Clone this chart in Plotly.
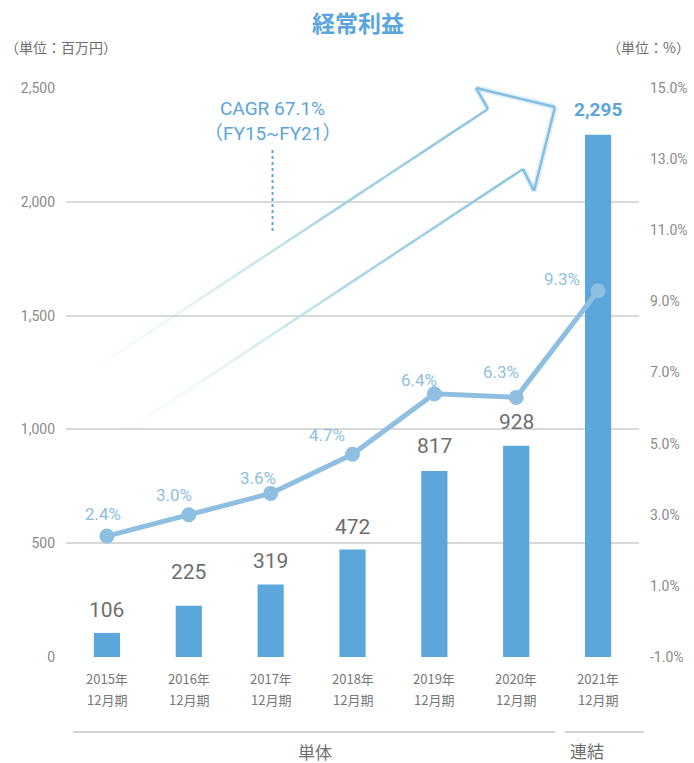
import plotly.graph_objects as go

# ---- data ----
categories = ["2015年", "2016年", "2017年", "2018年", "2019年", "2020年", "2021年"]
period_label = "12月期"
ordinary_profit = [106, 225, 319, 472, 817, 928, 2295]      # 百万円
profit_margin = [2.4, 3.0, 3.6, 4.7, 6.4, 6.3, 9.3]         # %
left_ticks = [0, 500, 1000, 1500, 2000, 2500]
right_ticks = [-1, 1, 3, 5, 7, 9, 11, 13, 15]

# ---- style / layout constants ----
W, H = 694, 763
L, R, T, B = 66, 55, 88, 106
PW, PH = W - L - R, H - T - B
BAR_COLOR = "#5ba7dc"
LINE_COLOR = "#8fbfe0"
TITLE_BLUE = "#5aa5dc"
GRAY = "#6e6e6e"
LABEL_GRAY = "#777777"
TICK_GRAY = "#8a8a8a"
NUM_FONT = "Roboto, 'Noto Sans CJK JP', sans-serif"
JP_FONT = "'Noto Sans CJK JP', sans-serif"

# label offsets in pixels (decoration placement)
margin_label_offsets = [(-4, -22), (-15, -20), (-13, -15), (-26, -19), (-15, -14), (-15, -25), (-36, -12)]
bar_label_gap = [23, 34, 23, 23, 25, 24, 25]


def px(x):
    return (x - L) / PW


def py(y):
    return (H - B - y) / PH


fig = go.Figure()

fig.add_trace(go.Bar(
    x=categories, y=ordinary_profit, marker_color=BAR_COLOR,
    marker_line_width=0, yaxis="y", hoverinfo="skip",
))
fig.add_trace(go.Scatter(
    x=categories, y=profit_margin, yaxis="y2", mode="lines+markers",
    line=dict(color=LINE_COLOR, width=5), marker=dict(color=LINE_COLOR, size=15),
    hoverinfo="skip",
))

annotations = []
# bar value labels
for i, (c, v) in enumerate(zip(categories, ordinary_profit)):
    last = i == len(categories) - 1
    annotations.append(dict(
        x=c, y=v, xref="x", yref="y", text=f"<b>{v:,}</b>" if last else f"{v:,}",
        showarrow=False, yanchor="middle", yshift=bar_label_gap[i],
        font=dict(family=NUM_FONT, size=19 if last else 21, color=TITLE_BLUE if last else GRAY),
    ))
# margin labels
for i, (c, v) in enumerate(zip(categories, profit_margin)):
    dx, dy = margin_label_offsets[i]
    annotations.append(dict(
        x=c, y=v, xref="x", yref="y2", text=f"{v:.1f}%", showarrow=False,
        xshift=dx, yshift=-dy, yanchor="middle",
        font=dict(family=NUM_FONT, size=17, color=LINE_COLOR),
    ))
# x category labels (two rows)
for c in categories:
    annotations.append(dict(x=c, xref="x", y=py(678), yref="paper", text=c, showarrow=False,
                            yanchor="middle", font=dict(family=JP_FONT, size=13, color=LABEL_GRAY)))
    annotations.append(dict(x=c, xref="x", y=py(699), yref="paper", text=period_label, showarrow=False,
                            yanchor="middle", font=dict(family=JP_FONT, size=13, color=LABEL_GRAY)))

# title and units
annotations += [
    dict(x=px(358), y=py(22), xref="paper", yref="paper", text="<b>経常利益</b>", showarrow=False,
         yanchor="middle", font=dict(family=JP_FONT, size=23, color=TITLE_BLUE)),
    dict(x=px(3), y=py(47), xref="paper", yref="paper", text="（単位：百万円）", showarrow=False,
         xanchor="left", yanchor="middle", font=dict(family=JP_FONT, size=14, color=GRAY)),
    dict(x=px(692), y=py(47), xref="paper", yref="paper", text="（単位：%）", showarrow=False,
         xanchor="right", yanchor="middle", font=dict(family=JP_FONT, size=14, color=GRAY)),
    dict(x=px(272.5), y=py(109), xref="paper", yref="paper", text="CAGR 67.1%", showarrow=False,
         yanchor="middle", font=dict(family=NUM_FONT, size=19, color=TITLE_BLUE)),
    dict(x=px(272.5), y=py(133), xref="paper", yref="paper", text="（FY15~FY21）", showarrow=False,
         yanchor="middle", font=dict(family=NUM_FONT, size=19, color=TITLE_BLUE)),
    dict(x=px(315), y=py(751), xref="paper", yref="paper", text="単体", showarrow=False,
         yanchor="middle", font=dict(family=JP_FONT, size=17, color=GRAY)),
    dict(x=px(606), y=py(750), xref="paper", yref="paper", text="連結", showarrow=False,
         yanchor="middle", font=dict(family=JP_FONT, size=17, color=GRAY)),
]

shapes = []


def seg(x0, y0, x1, y1, color, width, dash=None):
    d = dict(type="line", xref="paper", yref="paper", x0=px(x0), y0=py(y0), x1=px(x1), y1=py(y1),
             line=dict(color=color, width=width))
    if dash:
        d["line"]["dash"] = dash
    shapes.append(d)


# gradient arrow shafts
def grad_line(p0, p1, n=24):
    for k in range(n):
        t0, t1 = k / n, (k + 1) / n
        tm = (t0 + t1) / 2
        a = min(1.0, tm * 1.6)
        r = int(205 + (140 - 205) * tm)
        g = int(235 + (198 - 235) * tm)
        b = int(238 + (222 - 238) * tm)
        seg(p0[0] + (p1[0] - p0[0]) * t0, p0[1] + (p1[1] - p0[1]) * t0,
            p0[0] + (p1[0] - p0[0]) * t1, p0[1] + (p1[1] - p0[1]) * t1,
            f"rgba({r},{g},{b},{a:.2f})", 2.5)


grad_line((80, 378), (488, 109))
grad_line((117, 437), (523, 169))
head = [(488, 109), (476, 88), (555, 107), (534, 191), (523, 169)]
for (a, b_) in zip(head[:-1], head[1:]):
    seg(a[0], a[1], b_[0], b_[1], "rgba(140,195,228,0.25)", 6)
for (a, b_) in zip(head[:-1], head[1:]):
    seg(a[0], a[1], b_[0], b_[1], "rgba(130,190,228,1)", 2.5)

# dotted connector
seg(272.5, 150, 272.5, 232, TITLE_BLUE, 2, "dot")
# bottom group lines
seg(73, 732, 555, 732, "#d4d4d4", 2)
seg(565, 732, 644, 732, "#d4d4d4", 2)

fig.update_layout(
    width=W, height=H, margin=dict(l=L, r=R, t=T, b=B, autoexpand=False),
    paper_bgcolor="white", plot_bgcolor="white", showlegend=False, bargap=0.68,
    annotations=annotations, shapes=shapes,
    xaxis=dict(type="category", range=[-0.5, len(categories) - 0.5], showticklabels=False,
               showgrid=False, zeroline=False, showline=False, ticks=""),
    yaxis=dict(range=[0, 2500], tickvals=left_ticks, tickformat=",", showgrid=True,
               gridcolor="#d9d9d9", gridwidth=2, zeroline=False, showline=False, ticks="",
               ticklabelstandoff=10, tickfont=dict(family=NUM_FONT, size=14, color=TICK_GRAY)),
    yaxis2=dict(range=[-1, 15], overlaying="y", side="right", tickvals=right_ticks,
                ticktext=[f"{v:.1f}%" for v in right_ticks], showgrid=False, zeroline=False,
                showline=False, ticks="", ticklabelstandoff=10,
                tickfont=dict(family=NUM_FONT, size=14, color=TICK_GRAY)),
)

fig.write_html("out.html", config={"displayModeBar": False},
               post_script="document.body.style.margin='0';document.body.style.padding='0';")
